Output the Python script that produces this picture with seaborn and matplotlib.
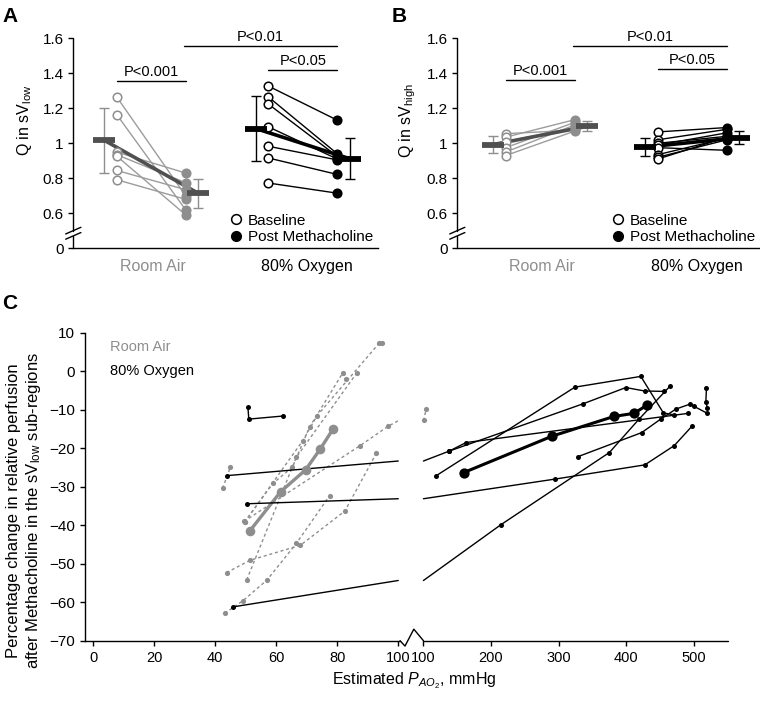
import numpy as np
import pandas as pd
import seaborn as sns
import matplotlib.pyplot as plt
from matplotlib.lines import Line2D

# ------------------------------------------------
# Panel A : Q in sV_low
# ------------------------------------------------
ra_base_A = [1.265, 1.164, 0.950, 0.935, 0.927, 0.845, 0.792]
ra_post_A = [0.700, 0.620, 0.830, 0.775, 0.591, 0.735, 0.680]
ox_base_A = [1.327, 1.265, 1.224, 1.094, 0.983, 0.916, 0.773]
ox_post_A = [1.132, 0.940, 0.925, 0.910, 0.905, 0.822, 0.715]
ra_mean_A = [1.017, 0.715]
ra_sd_A = [0.186, 0.083]
ox_mean_A = [1.084, 0.912]
ox_sd_A = [0.186, 0.117]

# ------------------------------------------------
# Panel B : Q in sV_high
# ------------------------------------------------
ra_base_B = [1.055, 1.035, 1.010, 0.975, 0.950, 0.930]
ra_post_B = [1.075, 1.135, 1.090, 1.120, 1.105, 1.070]
ox_base_B = [1.065, 1.020, 1.000, 0.990, 0.975, 0.935, 0.920, 0.910]
ox_post_B = [1.090, 1.080, 1.040, 1.060, 0.960, 1.030, 1.020, 1.035]
ra_mean_B = [0.993, 1.097]
ra_sd_B = [0.050, 0.028]
ox_mean_B = [0.978, 1.033]
ox_sd_B = [0.053, 0.038]

y_ticks = [0.4, 0.6, 0.8, 1.0, 1.2, 1.4, 1.6]
y_tick_labels = ["0", "0.6", "0.8", "1", "1.2", "1.4", "1.6"]
conditions = ["Room Air", "80% Oxygen"]
p_labels = ["P<0.001", "P<0.01", "P<0.05"]

# ------------------------------------------------
# Panel C : % change vs estimated PAO2 (per subject)
# ------------------------------------------------
ra_c_pao2 = [
    [43.1, 49.1, 57.0, 66.6, 77.5],
    [43.7, 51.4, 67.9, 82.5, 92.8],
    [50.3, 66.6, 86.4],
    [49.6, 58.9, 65.3, 70.9, 81.8, 83.0],
    [49.6, 68.7, 73.4, 93.8, 94.7],
    [42.4, 45.0],
    [49.4, 87.3, 96.6, 100.5, 104.0],
]
ra_c_change = [
    [-62.9, -59.6, -54.2, -44.7, -32.3],
    [-52.3, -49.1, -45.2, -36.3, -21.3],
    [-54.2, -22.3, -0.4],
    [-39.2, -29.1, -24.9, -14.5, -0.4, -2.0],
    [-39.2, -18.0, -11.5, 7.4, 7.5],
    [-30.4, -24.8],
    [-39.0, -19.4, -14.3, -12.6, -9.8],
]
ra_c_mean_pao2 = [51.3, 61.4, 69.6, 74.4, 78.6]
ra_c_mean_change = [-41.5, -31.3, -25.6, -20.2, -15.0]

ox_c_pao2 = [
    [50.7, 51.0, 62.2],
    [43.7, 138.4, 336.5, 399.4, 427.5, 456.0],
    [50.5, 294.5, 427.5, 471.0, 497.0],
    [45.9, 215.0, 375.0, 419.0, 465.0],
    [119.0, 324.0, 421.6, 455.0, 471.0],
    [138.4, 163.0, 492.0],
    [328.0, 423.0, 451.0, 473.4, 494.5, 500.5, 520.0],
    [518.7, 517.8, 520.0],
]
ox_c_change = [
    [-9.2, -12.4, -11.6],
    [-27.1, -20.7, -8.4, -4.2, -5.1, -5.2],
    [-34.4, -28.0, -24.3, -19.3, -14.3],
    [-61.2, -39.8, -21.1, -12.4, -3.8],
    [-27.1, -4.1, -1.3, -10.8, -11.3],
    [-20.7, -18.5, -10.9],
    [-22.2, -15.9, -12.4, -9.8, -8.5, -9.1, -10.9],
    [-4.4, -8.0, -9.4],
]
ox_c_mean_pao2 = [159.6, 290.8, 382.0, 411.7, 431.3]
ox_c_mean_change = [-26.3, -16.8, -11.7, -10.9, -8.7]

left_ticks = [0, 20, 40, 60, 80, 100]
right_ticks = [100, 200, 300, 400, 500]

# ------------------------------------------------
# style
# ------------------------------------------------
sns.set_theme(style="ticks")
plt.rcParams["font.family"] = ["Liberation Sans", "DejaVu Sans"]
plt.rcParams["mathtext.fontset"] = "custom"
plt.rcParams["mathtext.rm"] = "Liberation Sans"
plt.rcParams["mathtext.it"] = "Liberation Sans:italic"
plt.rcParams["axes.linewidth"] = 1.0
plt.rcParams["axes.edgecolor"] = "black"
plt.rcParams["text.color"] = "black"
plt.rcParams["axes.labelcolor"] = "black"
plt.rcParams["xtick.color"] = "black"
plt.rcParams["ytick.color"] = "black"
plt.rcParams["xtick.major.width"] = 1.0
plt.rcParams["ytick.major.width"] = 1.0
plt.rcParams["xtick.major.size"] = 3.5
plt.rcParams["ytick.major.size"] = 3.5

GRAY = "#8e8e8e"
LGRAY = "#9c9c9c"
DGRAY = "#505050"

POS = [0.0, 1.0, 2.2, 3.2]          # RA base, RA post, O2 base, O2 post
MEAN_POS = [-0.18, 1.18, 2.02, 3.38]

fig = plt.figure(figsize=(7.6, 7.01), dpi=100)
axA = fig.add_axes([73.3 / 760, 1 - 248.3 / 701, 304.7 / 760, 213.5 / 701])
axB = fig.add_axes([457.3 / 760, 1 - 248.3 / 701, 302.7 / 760, 213.5 / 701])
axC = fig.add_axes([85 / 760, 1 - 640.7 / 701, 642.7 / 760, 309.7 / 701])


def paired_panel(ax, ra_b, ra_p, ox_b, ox_p, ra_m, ra_s, ox_m, ox_s,
                 ylab, xlim, sig_y):
    rows = []
    for i, (b, p) in enumerate(zip(ra_b, ra_p)):
        rows += [("ra", i, POS[0], b, "base"), ("ra", i, POS[1], p, "post")]
    for i, (b, p) in enumerate(zip(ox_b, ox_p)):
        rows += [("ox", i, POS[2], b, "base"), ("ox", i, POS[3], p, "post")]
    df = pd.DataFrame(rows, columns=["gas", "subject", "x", "q", "phase"])

    for gas, lcol, pcol in [("ra", LGRAY, GRAY), ("ox", "black", "black")]:
        d = df[df.gas == gas]
        sns.lineplot(data=d, x="x", y="q", units="subject", estimator=None,
                     sort=False, color=lcol, lw=1.0, ax=ax, legend=False,
                     zorder=2)
        sns.scatterplot(data=d[d.phase == "base"], x="x", y="q", s=38,
                        facecolor="white", edgecolor=pcol, linewidth=1.1,
                        ax=ax, zorder=4, legend=False)
        sns.scatterplot(data=d[d.phase == "post"], x="x", y="q", s=38,
                        color=pcol, edgecolor=pcol, linewidth=1.1,
                        ax=ax, zorder=4, legend=False)

    # group means + SD
    for means, sds, xs, bcol, ecol in [
        (ra_m, ra_s, MEAN_POS[:2], DGRAY, GRAY),
        (ox_m, ox_s, MEAN_POS[2:], "black", "black"),
    ]:
        ax.plot(xs, means, color=bcol, lw=2.6, zorder=3, solid_capstyle="butt")
        ax.errorbar(xs, means, yerr=sds, fmt="none", ecolor=ecol,
                    elinewidth=1.0, capsize=3.5, capthick=1.0, zorder=3)
        ax.hlines(means, np.array(xs) - 0.16, np.array(xs) + 0.16,
                  color=bcol, lw=4.2, zorder=5)

    # significance bars
    for (x0, x1), y, lab in zip([(POS[0], POS[1]), (POS[1] - 0.03, POS[3]),
                                 (POS[2], POS[3])], sig_y, p_labels):
        ax.plot([x0, x1], [y, y], color="black", lw=1.0)
        ax.text((x0 + x1) / 2, y + 0.012, lab, ha="center", va="bottom",
                fontsize=10.5)

    ax.set_xlim(*xlim)
    ax.set_ylim(0.4, 1.62)
    ax.set_yticks(y_ticks)
    ax.set_yticklabels(y_tick_labels, fontsize=11)
    ax.set_xticks([(POS[0] + POS[1]) / 2 + 0.02, (POS[2] + POS[3]) / 2 + 0.06])
    ax.set_xticklabels(conditions, fontsize=11.5)
    ax.get_xticklabels()[0].set_color(GRAY)
    ax.tick_params(axis="x", length=0, pad=8)
    ax.set_xlabel("")
    ax.set_ylabel(ylab, fontsize=11.5)
    ax.yaxis.set_label_coords(-0.13, 0.6)

    for s in ["top", "right", "left"]:
        ax.spines[s].set_visible(False)
    tr = ax.get_yaxis_transform()
    ax.plot([0, 0], [0.4, 0.468], transform=tr, color="black", lw=1.0,
            clip_on=False)
    ax.plot([0, 0], [0.498, 1.6], transform=tr, color="black", lw=1.0,
            clip_on=False)
    for dy in (0.0, 0.03):
        ax.plot([-0.025, 0.025], [0.452 + dy, 0.49 + dy], transform=tr,
                color="black", lw=1.0, clip_on=False)

    handles = [
        Line2D([], [], marker="o", ls="none", ms=7, mfc="white", mec="black",
               mew=1.1),
        Line2D([], [], marker="o", ls="none", ms=7, mfc="black", mec="black"),
    ]
    ax.legend(handles, ["Baseline", "Post Methacholine"], loc="lower right",
              bbox_to_anchor=(0.985, 0.02), frameon=False, fontsize=11,
              handlelength=0.8, handletextpad=0.4, labelspacing=0.15,
              borderaxespad=0.0, borderpad=0.0)


paired_panel(axA, ra_base_A, ra_post_A, ox_base_A, ox_post_A,
             ra_mean_A, ra_sd_A, ox_mean_A, ox_sd_A,
             r"Q in sV$_{\mathrm{low}}$", (-0.63, 3.79), [1.355, 1.558, 1.418])
paired_panel(axB, ra_base_B, ra_post_B, ox_base_B, ox_post_B,
             ra_mean_B, ra_sd_B, ox_mean_B, ox_sd_B,
             r"Q in sV$_{\mathrm{high}}$", (-0.7, 3.68), [1.36, 1.558, 1.424])

# ------------------------------------------------
# Panel C : broken x axis (0-100 | 100-550)
# ------------------------------------------------
GAP = 8.25
RSCALE = 0.2216


def tx_left(x):
    return np.asarray(x, float)


def tx_right(x):
    return 100 + GAP + (np.asarray(x, float) - 100) * RSCALE


def tx(x):
    x = np.asarray(x, float)
    return np.where(x <= 100, tx_left(x), tx_right(x))


def broken_path(xs, ys):
    # split segments that cross the axis break
    px, py = [tx(xs[0]).item()], [ys[0]]
    for (x0, y0), (x1, y1) in zip(zip(xs[:-1], ys[:-1]), zip(xs[1:], ys[1:])):
        if x0 <= 100 < x1:
            ym = y0 + (y1 - y0) * (100 - x0) / (x1 - x0)
            px += [100.0, np.nan, tx_right(100).item()]
            py += [ym, np.nan, ym]
        px.append(tx(x1).item())
        py.append(y1)
    return px, py


for xs, ys in zip(ra_c_pao2, ra_c_change):
    px, py = broken_path(xs, ys)
    axC.plot(px, py, color=GRAY, lw=1.0, ls=(0, (2.2, 2.0)), zorder=2)
px, py = broken_path(ra_c_mean_pao2, ra_c_mean_change)
axC.plot(px, py, color=GRAY, lw=2.4, zorder=3)

for xs, ys in zip(ox_c_pao2, ox_c_change):
    px, py = broken_path(xs, ys)
    axC.plot(px, py, color="black", lw=1.0, zorder=4)
px, py = broken_path(ox_c_mean_pao2, ox_c_mean_change)
axC.plot(px, py, color="black", lw=2.2, zorder=5)

pts = []
for xs, ys in zip(ra_c_pao2, ra_c_change):
    pts += [("ra", a, b) for a, b in zip(xs, ys)]
for xs, ys in zip(ox_c_pao2, ox_c_change):
    pts += [("ox", a, b) for a, b in zip(xs, ys)]
dfc = pd.DataFrame(pts, columns=["gas", "pao2", "change"])
dfc["t"] = tx(dfc["pao2"])
dfm = pd.DataFrame({
    "gas": ["ra"] * len(ra_c_mean_pao2) + ["ox"] * len(ox_c_mean_pao2),
    "pao2": ra_c_mean_pao2 + ox_c_mean_pao2,
    "change": ra_c_mean_change + ox_c_mean_change,
})
dfm["t"] = tx(dfm["pao2"])

sns.scatterplot(data=dfc[dfc.gas == "ra"], x="t", y="change", color=GRAY,
                s=14, linewidth=0, ax=axC, zorder=3, legend=False)
sns.scatterplot(data=dfc[dfc.gas == "ox"], x="t", y="change", color="black",
                s=13, linewidth=0, ax=axC, zorder=6, legend=False)
sns.scatterplot(data=dfm[dfm.gas == "ra"], x="t", y="change", color=GRAY,
                s=48, linewidth=0, ax=axC, zorder=4, legend=False)
sns.scatterplot(data=dfm[dfm.gas == "ox"], x="t", y="change", color="black",
                s=55, linewidth=0, ax=axC, zorder=7, legend=False)

axC.set_xlim(-2.7, 208)
axC.set_ylim(-70, 10.5)
axC.set_yticks(np.arange(-70, 11, 10))
axC.tick_params(axis="y", labelsize=11)
axC.set_xticks(list(tx_left(left_ticks)) + list(tx_right(right_ticks)))
axC.set_xticklabels([str(v) for v in left_ticks + right_ticks], fontsize=10.5)
axC.tick_params(axis="x", pad=4)
for s in ["top", "right", "bottom"]:
    axC.spines[s].set_visible(False)
axC.spines["left"].set_bounds(-70, 10)
axC.plot([-2.7, 100.6], [-70, -70], color="black", lw=1.0, clip_on=False)
axC.plot([100.6, 102.2, 105.1, 108.25], [-70, -71.4, -67.0, -70],
         color="black", lw=1.0, clip_on=False)
axC.plot([108.25, 208], [-70, -70], color="black", lw=1.0, clip_on=False)

axC.text(5.5, 6.4, "Room Air", color=GRAY, fontsize=10.5, va="center")
axC.text(5.5, 0.0, "80% Oxygen", color="black", fontsize=10.5, va="center")

axC.set_xlabel(r"Estimated $P_{AO_2}$, mmHg", fontsize=11.5)
axC.xaxis.set_label_coords(0.512, -0.095)
axC.set_ylabel("Percentage change in relative perfusion\n"
               r"after Methacholine in the sV$_{\mathrm{low}}$ sub-regions",
               fontsize=12, linespacing=1.15)
axC.yaxis.set_label_coords(-0.066, 0.42)

# panel letters
for lab, x, y in [("A", 0.003, 0.99), ("B", 0.515, 0.99), ("C", 0.003, 0.581)]:
    fig.text(x, y, lab, fontsize=15, fontweight="bold", va="top", ha="left")

fig.savefig("out.png", dpi=100)
